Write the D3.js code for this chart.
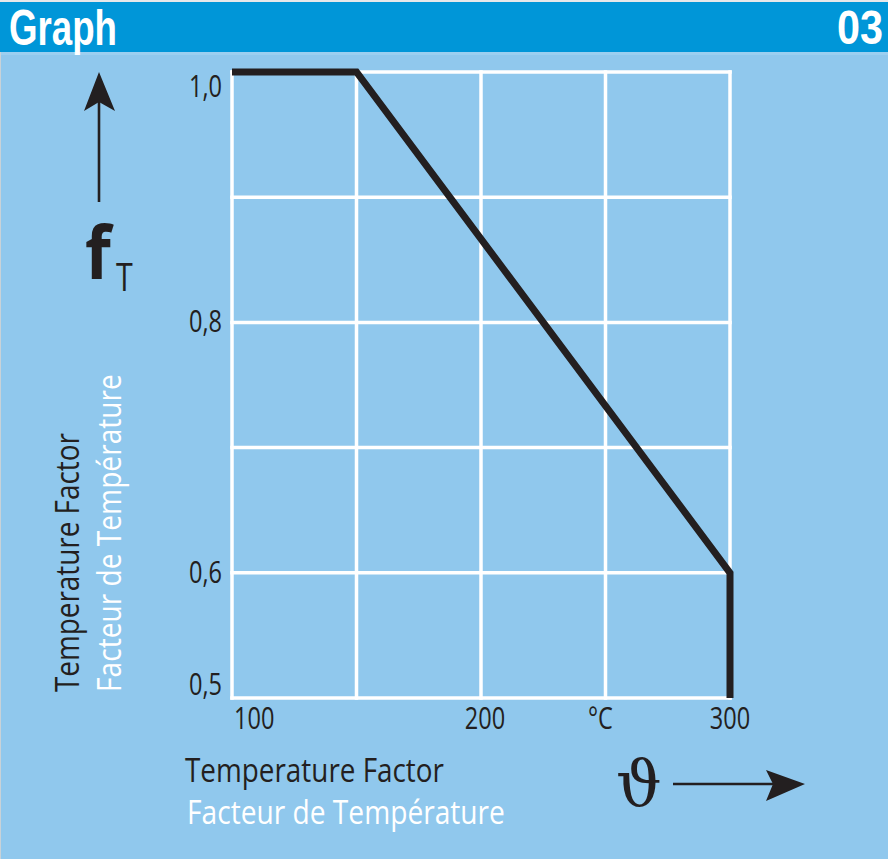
<!DOCTYPE html>
<html>
<head>
<meta charset="utf-8">
<script src="https://cdn.jsdelivr.net/npm/d3@7"></script>
<style>
  html, body { margin: 0; padding: 0; background: #ffffff; }
  svg { display: block; }
</style>
</head>
<body>
<script>
// ---------- data ----------
const temperatures = [100, 150, 300, 300];
const factors      = [1.0, 1.0, 0.6, 0.5];
const xGridValues  = [100, 150, 200, 250, 300];
const yGridValues  = [0.5, 0.6, 0.7, 0.8, 0.9, 1.0];
const xTickValues  = [100, 200, 250, 300];
const xTickLabels  = ["100", "200", "°C", "300"];
const yTickValues  = [1.0, 0.8, 0.6, 0.5];
const yTickLabels  = ["1,0", "0,8", "0,6", "0,5"];
const headerTitle  = "Graph";
const headerNumber = "03";
const axisTitleEn  = "Temperature Factor";
const axisTitleFr  = "Facteur de Température";

// ---------- styling ----------
const W = 888, H = 859;
const C_HEADER = "#0096d8", C_BG = "#90c8ed", C_DARK = "#231f20";
const FONT = "'Open Sans', 'Noto Sans', sans-serif";
const COND = 0.76;

const svg = d3.select("body").append("svg").attr("width", W).attr("height", H);

// background
svg.append("rect").attr("width", W).attr("height", H).attr("fill", C_BG);
svg.append("rect").attr("width", W).attr("height", 3).attr("fill", "#e6e8ea");
svg.append("rect").attr("y", 2).attr("width", W).attr("height", 50).attr("fill", C_HEADER);
svg.append("rect").attr("y", 52).attr("width", W).attr("height", 3).attr("fill", "#9ccff0");
svg.append("rect").attr("y", 52).attr("width", 1).attr("height", H - 52).attr("fill", "#c8d2d8");

function fitText(sel, width) {
  const n = sel.node();
  const w = n.getComputedTextLength();
  const f = width / w;
  const x = +sel.attr("x"), y = +sel.attr("y");
  sel.attr("x", 0).attr("y", 0)
     .attr("transform", `translate(${x},${y}) scale(${f},1)`);
  return sel;
}

// header texts
fitText(svg.append("text").attr("x", 9).attr("y", 45)
  .attr("font-family", "'Liberation Sans', Arial, sans-serif").attr("font-weight", "bold")
  .attr("font-size", 50).attr("fill", "#fff").text(headerTitle), 108);
fitText(svg.append("text").attr("x", 837).attr("y", 44)
  .attr("font-family", "'Liberation Sans', Arial, sans-serif").attr("font-weight", "bold")
  .attr("font-size", 48).attr("fill", "#fff").text(headerNumber), 46);

// ---------- scales ----------
const x = d3.scaleLinear().domain([100, 300]).range([232, 730]);
const y = d3.scaleLinear().domain([0.5, 1.0]).range([698, 72]);

// grid
const grid = svg.append("g").attr("stroke", "#ffffff").attr("stroke-width", 3.5);
grid.selectAll("line.v").data(xGridValues).join("line").attr("class", "v")
  .attr("x1", d => x(d)).attr("x2", d => x(d))
  .attr("y1", y(1.0) - 1.75).attr("y2", y(0.5) + 1.75);
grid.selectAll("line.h").data(yGridValues).join("line").attr("class", "h")
  .attr("y1", d => y(d)).attr("y2", d => y(d))
  .attr("x1", x(100) - 1.75).attr("x2", x(300) + 1.75);

// curve
const pts = temperatures.map((t, i) => [t, factors[i]]);
svg.append("path").datum(pts)
  .attr("d", d3.line().x(d => x(d[0])).y(d => y(d[1])))
  .attr("fill", "none").attr("stroke", C_DARK).attr("stroke-width", 7)
  .attr("stroke-linejoin", "miter").attr("stroke-linecap", "butt");

// y tick labels
const yLab = svg.append("g").attr("font-family", FONT).attr("font-size", 31).attr("fill", C_DARK);
yTickValues.forEach((v, i) => {
  const cy = Math.max(y(1.0) + 13, Math.min(y(0.5) - 15, y(v) - 2));
  yLab.append("text").attr("x", 0).attr("y", 0).attr("text-anchor", "end")
    .attr("dominant-baseline", "central")
    .attr("transform", `translate(222,${cy}) scale(${COND},1)`).text(yTickLabels[i]);
});

// x tick labels
const xLab = svg.append("g").attr("font-family", FONT).attr("font-size", 31).attr("fill", C_DARK);
xTickValues.forEach((v, i) => {
  const t = xLab.append("text").attr("x", 0).attr("y", 0).attr("text-anchor", "middle").text(xTickLabels[i]);
  const w = t.node().getComputedTextLength() * COND;
  const cx = Math.max(x(100) + 2 + w / 2, x(v) + (i === 1 ? 4 : i === 2 ? -5 : 0));
  t.attr("transform", `translate(${cx},729) scale(${COND},1)`);
});

// axis titles (horizontal)
fitText(svg.append("text").attr("x", 185).attr("y", 782).attr("font-family", FONT)
  .attr("font-size", 32).attr("fill", C_DARK).text(axisTitleEn), 259);
fitText(svg.append("text").attr("x", 187).attr("y", 824).attr("font-family", FONT)
  .attr("font-size", 32).attr("fill", "#ffffff").text(axisTitleFr), 318);

// axis titles (vertical)
function vText(txt, bx, by, width, color) {
  const t = svg.append("text").attr("font-family", FONT).attr("font-size", 33)
    .attr("fill", color).text(txt);
  const f = width / t.node().getComputedTextLength();
  t.attr("transform", `translate(${bx},${by}) rotate(-90) scale(${f},1)`);
}
vText(axisTitleEn, 79, 692, 259, C_DARK);
vText(axisTitleFr, 121, 692, 318, "#ffffff");

// y arrow + f_T
svg.append("line").attr("x1", 99).attr("x2", 99).attr("y1", 202).attr("y2", 100)
  .attr("stroke", C_DARK).attr("stroke-width", 2.6);
svg.append("path").attr("d", "M99,72 L115,111 L99,102 L84,111 Z").attr("fill", C_DARK);
svg.append("text").attr("font-family", FONT).attr("font-weight", "bold").attr("font-size", 74)
  .attr("fill", C_DARK).attr("transform", "translate(85,279) scale(0.9,1)").text("f");
svg.append("text").attr("font-family", FONT).attr("font-size", 38)
  .attr("fill", C_DARK).attr("transform", "translate(116,291) scale(0.8,1)").text("T");

// x arrow + theta
svg.append("text").attr("font-family", "'DejaVu Serif', 'Liberation Serif', serif").attr("font-size", 64)
  .attr("fill", C_DARK).attr("x", 616).attr("y", 805).text("ϑ");
svg.append("line").attr("x1", 673).attr("x2", 776).attr("y1", 784).attr("y2", 784)
  .attr("stroke", C_DARK).attr("stroke-width", 2.6);
svg.append("path").attr("d", "M805,784 L766,770 L773,784 L766,801 Z").attr("fill", C_DARK);
</script>
</body>
</html>
